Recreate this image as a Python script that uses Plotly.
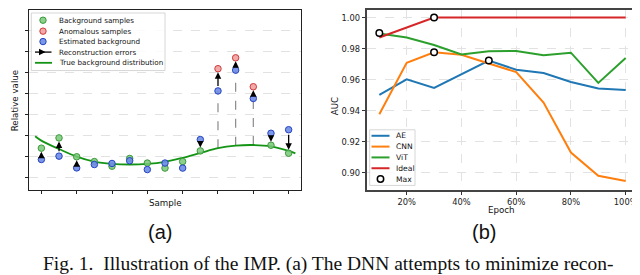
import plotly.graph_objects as go

W, H = 640, 275

# ---------------- data: panel (a) ----------------
sample_x = list(range(15))
background = [1.41, 1.90, 1.00, 0.77, 0.55, 0.92, 0.70, 0.46, 0.77, 1.28, None, None, None, 1.55, 1.17]
anomalous = [None] * 10 + [5.20, 5.72, 4.34] + [None, None]
estimated = [0.87, 1.03, 0.47, 0.63, 0.68, 0.81, 0.39, 0.70, 0.46, 1.82, 4.14, 5.13, 3.78, 2.12, 2.29]
curve_x = [-0.35, 0, 1, 2, 3, 4, 5, 6, 7, 8, 9, 10, 11, 12, 13, 14, 14.38]
curve_y = [1.98, 1.77, 1.37, 1.01, 0.77, 0.66, 0.63, 0.66, 0.76, 0.95, 1.18, 1.41, 1.53, 1.56, 1.50, 1.28, 1.16]

# ---------------- data: panel (b) ----------------
epochs = [10, 20, 30, 40, 50, 60, 70, 80, 90, 100]
auc_ae = [0.9502, 0.9602, 0.9547, 0.9636, 0.9723, 0.9664, 0.9643, 0.9585, 0.9543, 0.9534]
auc_cnn = [0.9377, 0.9709, 0.9777, 0.9760, 0.9704, 0.9649, 0.9453, 0.9130, 0.8981, 0.8947]
auc_vit = [0.9898, 0.9872, 0.9823, 0.9762, 0.9783, 0.9785, 0.9757, 0.9774, 0.9579, 0.9740]
auc_ideal = [0.9872, 0.9936, 1.0, 1.0, 1.0, 1.0, 1.0, 1.0, 1.0, 1.0]
max_x = [10, 30, 30, 50]
max_y = [0.9900, 1.0, 0.9777, 0.9723]
epoch_ticks = [20, 40, 60, 80, 100]
epoch_labels = ["20%", "40%", "60%", "80%", "100%"]
auc_ticks = [0.90, 0.92, 0.94, 0.96, 0.98, 1.00]

GREEN_F, GREEN_E = "rgba(120,200,120,0.85)", "#3c9a3c"
RED_F, RED_E = "rgba(240,160,160,0.9)", "#d03a3a"
BLUE_F, BLUE_E = "rgba(110,140,230,0.9)", "#2545c0"
CURVE = "#149414"
TAB = ["#1f77b4", "#ff7f0e", "#2ca02c", "#d62728"]
FONT = "DejaVu Sans"


def px(x):
    return x / W


def py(y):
    return 1 - y / H


fig = go.Figure()

# dashed lines from curve to estimated (anomalies)
for i in sample_x:
    if anomalous[i] is not None:
        cy = curve_y[curve_x.index(i)]
        fig.add_trace(go.Scatter(x=[i, i], y=[cy, estimated[i]], mode="lines",
                                 line=dict(color="#8a8a8a", width=1.2, dash="dash"),
                                 xaxis="x", yaxis="y", showlegend=False, hoverinfo="skip"))

fig.add_trace(go.Scatter(x=curve_x, y=curve_y, mode="lines", line=dict(color=CURVE, width=1.8, shape="spline"),
                         xaxis="x", yaxis="y", showlegend=False))

for vals, fc, ec in [(background, GREEN_F, GREEN_E), (anomalous, RED_F, RED_E), (estimated, BLUE_F, BLUE_E)]:
    fig.add_trace(go.Scatter(x=sample_x, y=vals, mode="markers",
                             marker=dict(size=6.5, color=fc, line=dict(color=ec, width=1)),
                             xaxis="x", yaxis="y", showlegend=False))

annotations = []
for i in sample_x:
    target = background[i] if background[i] is not None else anomalous[i]
    annotations.append(dict(x=i, y=target, ax=i, ay=estimated[i], xref="x", yref="y", axref="x", ayref="y",
                            text="", showarrow=True, arrowhead=2, arrowsize=1, arrowwidth=1.3,
                            arrowcolor="black", standoff=3.5, startstandoff=3.5))

# panel (b)
for ys, c in zip([auc_ae, auc_cnn, auc_vit, auc_ideal], TAB):
    fig.add_trace(go.Scatter(x=epochs, y=ys, mode="lines", line=dict(color=c, width=2),
                             xaxis="x2", yaxis="y2", showlegend=False))
fig.add_trace(go.Scatter(x=max_x, y=max_y, mode="markers",
                         marker=dict(size=6.5, color="white", line=dict(color="black", width=1.5)),
                         xaxis="x2", yaxis="y2", showlegend=False))

axis_common = dict(showline=True, mirror=True, ticks="outside", ticklen=3.5, zeroline=False)

layout = dict(
    width=W, height=H, margin=dict(l=0, r=0, t=0, b=0),
    paper_bgcolor="white", plot_bgcolor="white", showlegend=False,
    xaxis=dict(domain=[px(21), px(293)], range=[-0.7, 14.7], tickvals=list(range(0, 15, 2)),
               showticklabels=False, showgrid=False, linecolor="#222", linewidth=1, tickcolor="#222",
               anchor="y", **axis_common),
    yaxis=dict(domain=[py(181), 1], range=[-0.57, 8.0], tickvals=list(range(0, 8)),
               showticklabels=False, showgrid=True, gridcolor="#e2e2e2", griddash="dash", gridwidth=0.8,
               linecolor="#222", linewidth=1, tickcolor="#222", anchor="x", **axis_common),
    xaxis2=dict(domain=[px(359), px(630)], range=[5.5, 104.5], tickvals=epoch_ticks, ticktext=epoch_labels,
                showgrid=True, gridcolor="#e2e2e2", griddash="dash", gridwidth=0.8,
                linecolor="#444", linewidth=1.5, tickcolor="#333", anchor="y2",
                tickfont=dict(family=FONT, size=8.3, color="#222"), **axis_common),
    yaxis2=dict(domain=[py(181), 1], range=[0.8891, 1.0049], tickvals=auc_ticks, tickformat=".2f",
                showgrid=True, gridcolor="#e2e2e2", griddash="dash", gridwidth=0.8,
                linecolor="#444", linewidth=1.5, tickcolor="#333", anchor="x2",
                tickfont=dict(family=FONT, size=8.3, color="#222"), **axis_common),
)

shapes = []


def text_ann(x, y, s, size, family=FONT, xanchor="center", angle=0, color="#111", yanchor="middle"):
    annotations.append(dict(x=px(x), y=py(y), xref="paper", yref="paper", text=s, showarrow=False,
                            xanchor=xanchor, yanchor=yanchor, textangle=angle,
                            font=dict(family=family, size=size, color=color)))


def circle(x, y, fc, ec, r=3.2, lw=1):
    shapes.append(dict(type="circle", xref="paper", yref="paper", xsizemode="pixel", ysizemode="pixel",
                       xanchor=px(x), yanchor=py(y), x0=-r, x1=r, y0=-r, y1=r,
                       fillcolor=fc, line=dict(color=ec, width=lw)))


def hline(x0, x1, y, color, w):
    shapes.append(dict(type="line", xref="paper", yref="paper", x0=px(x0), x1=px(x1), y0=py(y), y1=py(y),
                       line=dict(color=color, width=w)))


# axis titles
text_ann(7, 91, "Relative value", 8.7, angle=-90)
text_ann(157, 194, "Sample", 8.7)
text_ann(327, 97, "AUC", 8.7, angle=-90)
text_ann(493, 201, "Epoch", 8.7)

# legend (a)
shapes.append(dict(type="rect", xref="paper", yref="paper", x0=px(23.3), x1=px(157), y0=py(61), y1=py(3),
                   fillcolor="rgba(255,255,255,0.85)", line=dict(color="#cccccc", width=0.8), layer="above"))
rows_a = [10.3, 21.3, 31.8, 42.4, 53.2]
circle(35, rows_a[0], GREEN_F, GREEN_E)
circle(35, rows_a[1], RED_F, RED_E)
circle(35, rows_a[2], BLUE_F, BLUE_E)
hline(27, 43.5, rows_a[3], "black", 1.3)
annotations.append(dict(x=px(37.5), y=py(rows_a[3]), ax=-5, ay=0, xref="paper", yref="paper",
                        axref="pixel", ayref="pixel", text="", showarrow=True, arrowhead=2, arrowsize=1,
                        arrowwidth=1.3, arrowcolor="black"))
hline(27, 44, rows_a[4], CURVE, 1.8)
for r, s in zip(rows_a, ["Background samples", "Anomalous samples", "Estimated background",
                         "Reconstruction errors", "True background distribution"]):
    text_ann(49, r, s, 7.2, xanchor="left")

# legend (b)
shapes.append(dict(type="rect", xref="paper", yref="paper", x0=px(361.7), x1=px(407), y0=py(176.7), y1=py(120.7),
                   fillcolor="rgba(255,255,255,0.85)", line=dict(color="#cccccc", width=0.8), layer="above"))
rows_b = [126.7, 137.6, 148.5, 159.4, 170.3]
for r, c in zip(rows_b[:4], TAB):
    hline(363.5, 381.5, r, c, 2)
circle(372.5, rows_b[4], "white", "black", r=3.2, lw=1.5)
for r, s in zip(rows_b, ["AE", "CNN", "ViT", "Ideal", "Max"]):
    text_ann(386, r, s, 7.6, xanchor="left")

# sub-figure labels and caption
text_ann(152, 224, "(a)", 20, family="Liberation Sans")
text_ann(476, 224, "(b)", 20, family="Liberation Sans")
text_ann(320, 269, "Fig. 1.  Illustration of the IMP. (a) The DNN attempts to minimize recon-", 19.5,
         family="Liberation Serif", xanchor="center", yanchor="bottom")

layout["shapes"] = shapes
layout["annotations"] = annotations
fig.update_layout(**layout)
fig.write_html("out.html")
